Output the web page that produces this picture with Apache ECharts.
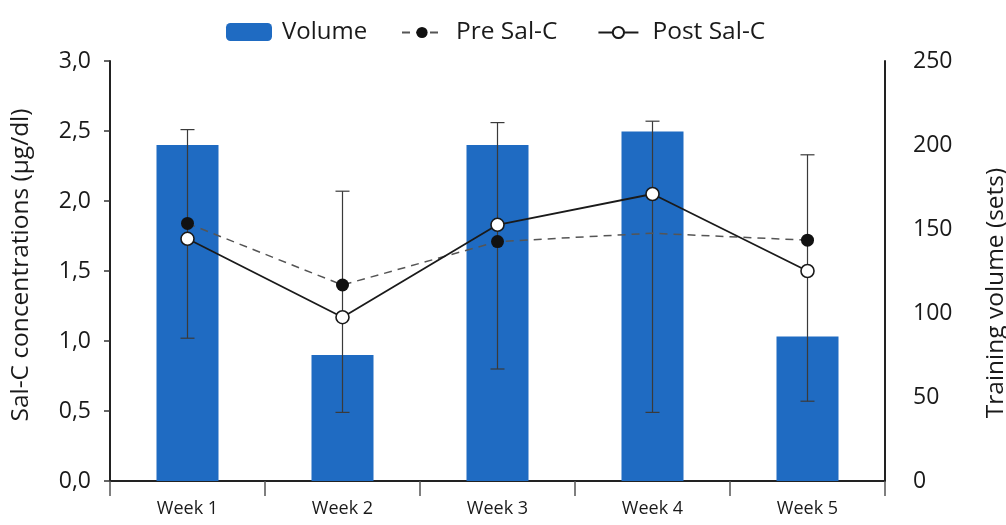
<!DOCTYPE html>
<html>
<head>
<meta charset="utf-8">
<script src="https://cdn.jsdelivr.net/npm/echarts@6/dist/echarts.min.js"></script>
<style>
  html, body { margin: 0; padding: 0; background: #ffffff; }
  #chart { width: 1006px; height: 525px; }
</style>
</head>
<body>
<div id="chart"></div>
<script>
// Weekly training volume and salivary cortisol (Sal-C) before/after sessions
const weeks = ['Week 1', 'Week 2', 'Week 3', 'Week 4', 'Week 5'];
const volume = [200, 75, 200, 208, 86];            // sets, right axis
const preSalC = [1.84, 1.40, 1.71, 1.77, 1.72];    // µg/dl, left axis
const postSalC = [1.73, 1.17, 1.83, 2.05, 1.50];   // µg/dl, left axis
const errLow = [1.02, 0.49, 0.80, 0.49, 0.57];     // error bar lower ends
const errHigh = [2.51, 2.07, 2.56, 2.57, 2.33];    // error bar upper ends
const leftAxis = { min: 0, max: 3, interval: 0.5 };
const rightAxis = { min: 0, max: 250, interval: 50 };
const leftTitle = 'Sal-C concentrations (μg/dl)';
const rightTitle = 'Training volume (sets)';

const FONT = 'Open Sans';
const INK = '#1a1a1a';

// Week 4 pre value is drawn as part of the line only, without a marker
const preData = preSalC.map((v, i) => (i === 3 ? { value: v, symbol: 'none' } : v));
const errData = weeks.map((w, i) => [i, errLow[i], errHigh[i]]);

const chart = echarts.init(document.getElementById('chart'), null, { renderer: 'canvas' });

chart.setOption({
  backgroundColor: '#ffffff',
  animation: false,
  textStyle: { fontFamily: FONT, color: INK },
  legend: [
    {
      data: ['Volume'],
      left: 226, top: 20, padding: 0,
      itemWidth: 46, itemHeight: 18,
      textStyle: { fontFamily: FONT, fontSize: 24, color: INK, padding: [0, 0, 0, 5] }
    },
    {
      data: ['Pre Sal-C', 'Post Sal-C'],
      left: 401, top: 20, padding: 0,
      itemWidth: 40, itemHeight: 14, itemGap: 40,
      textStyle: { fontFamily: FONT, fontSize: 24.5, color: INK, padding: [0, 0, 0, 9] }
    }
  ],
  grid: { left: 110, right: 121, top: 61, bottom: 44, outerBoundsMode: 'none' },
  graphic: [
    {
      type: 'text', x: 21, y: 265, rotation: Math.PI / 2, silent: true,
      style: { text: leftTitle, fontFamily: FONT, fontSize: 24.5, fill: INK, align: 'center', verticalAlign: 'middle' }
    },
    {
      type: 'text', x: 996, y: 293, rotation: Math.PI / 2, silent: true,
      style: { text: rightTitle, fontFamily: FONT, fontSize: 24.5, fill: INK, align: 'center', verticalAlign: 'middle' }
    }
  ],
  xAxis: {
    type: 'category',
    data: weeks,
    boundaryGap: true,
    axisLine: { lineStyle: { color: '#222', width: 2 } },
    axisTick: { show: true, length: 15, lineStyle: { color: '#555', width: 1.5 } },
    axisLabel: { fontFamily: FONT, fontSize: 18, color: INK, margin: 19 }
  },
  yAxis: [
    {
      type: 'value',
      position: 'left',
      min: leftAxis.min, max: leftAxis.max, interval: leftAxis.interval,
      axisLine: { show: true, lineStyle: { color: '#222', width: 2 } },
      axisTick: { show: true, length: 6, lineStyle: { color: '#333', width: 1.5 } },
      axisLabel: {
        fontFamily: FONT, fontSize: 23, color: INK, margin: 19,
        formatter: v => v.toFixed(1).replace('.', ',')
      },
      splitLine: { show: false }
    },
    {
      type: 'value',
      position: 'right',
      min: rightAxis.min, max: rightAxis.max, interval: rightAxis.interval,
      axisLine: { show: true, lineStyle: { color: '#222', width: 2 } },
      axisTick: { show: false },
      axisLabel: { fontFamily: FONT, fontSize: 23, color: INK, margin: 28 },
      splitLine: { show: false }
    }
  ],
  series: [
    {
      name: 'Volume',
      type: 'bar',
      yAxisIndex: 1,
      data: volume,
      barWidth: 62,
      itemStyle: { color: '#1f6bc2' },
      z: 1
    },
    {
      name: 'errorbars',
      type: 'custom',
      yAxisIndex: 0,
      data: errData,
      z: 3,
      silent: true,
      renderItem: (params, api) => {
        const idx = api.value(0);
        const lo = api.coord([idx, api.value(1)]);
        const hi = api.coord([idx, api.value(2)]);
        const half = 7;
        const style = { stroke: '#3a3a3a', lineWidth: 1.2 };
        return {
          type: 'group',
          children: [
            { type: 'line', shape: { x1: lo[0], y1: lo[1], x2: hi[0], y2: hi[1] }, style },
            { type: 'line', shape: { x1: hi[0] - half, y1: hi[1], x2: hi[0] + half, y2: hi[1] }, style },
            { type: 'line', shape: { x1: lo[0] - half, y1: lo[1], x2: lo[0] + half, y2: lo[1] }, style }
          ]
        };
      }
    },
    {
      name: 'Pre Sal-C',
      type: 'line',
      yAxisIndex: 0,
      data: preData,
      symbol: 'circle',
      symbolSize: 13,
      itemStyle: { color: '#111' },
      lineStyle: { color: '#555', width: 1.5, type: [8, 6] },
      z: 4
    },
    {
      name: 'Post Sal-C',
      type: 'line',
      yAxisIndex: 0,
      data: postSalC,
      symbol: 'circle',
      symbolSize: 13,
      itemStyle: { color: '#ffffff', borderColor: '#1a1a1a', borderWidth: 1.6 },
      lineStyle: { color: '#1a1a1a', width: 1.8 },
      z: 5
    }
  ]
});
</script>
</body>
</html>
